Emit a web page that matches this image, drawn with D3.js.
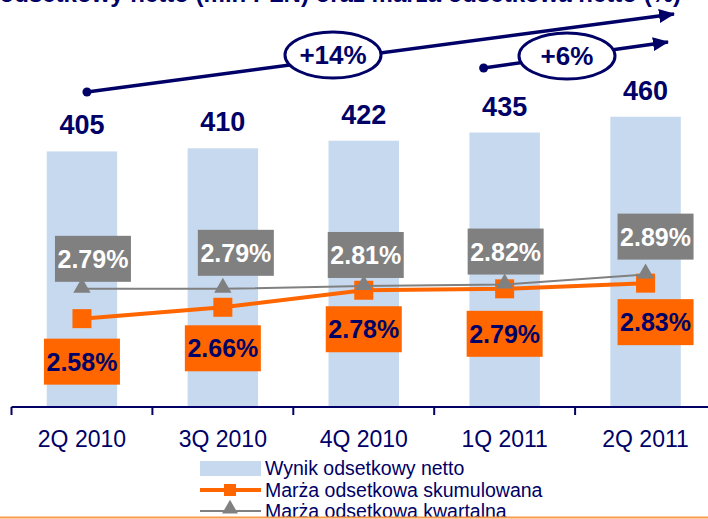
<!DOCTYPE html>
<html>
<head>
<meta charset="utf-8">
<script src="https://cdn.jsdelivr.net/npm/d3@7"></script>
<style>
  html, body { margin: 0; padding: 0; background: #fff; }
  svg { display: block; font-family: "Liberation Sans", Arial, sans-serif; }
</style>
</head>
<body>
<svg id="chart" width="708" height="519"></svg>
<script>
// Quarterly net interest income (mln PLN) and net interest margin (%)
const categories = ["2Q 2010", "3Q 2010", "4Q 2010", "1Q 2011", "2Q 2011"];
const netInterest = [405, 410, 422, 435, 460];
const marginCumulative = [2.58, 2.66, 2.78, 2.79, 2.83];
const marginQuarterly = [2.79, 2.79, 2.81, 2.82, 2.89];
const growthLabels = ["+14%", "+6%"];
const legendLabels = ["Wynik odsetkowy netto", "Marża odsetkowa skumulowana", "Marża odsetkowa kwartalna"];
const titleText = "Wynik odsetkowy netto (mln PLN) oraz marża odsetkowa netto (%)";

// hand-placed label offsets (px) so boxes sit clear of the lines
const quarterlyLabelDx = [11, 13, 2, 1, 10];
const quarterlyLabelGap = [7, 13, 8, 10, 15];
const cumulativeLabelDx = [0, 0, 0, 0, 10];
const cumulativeLabelGap = [20, 18, 16, 22, 16];

const NAVY = "#000066";
const BAR = "#C6D9EF";
const ORANGE = "#FF6600";
const GREY = "#808080";

const svg = d3.select("#chart");

const axisY = 407;
const x = d3.scaleBand().domain(categories).range([11.5, 716]).paddingInner(0.5).paddingOuter(0.25);
const y = d3.scaleLinear().domain([0, 600]).range([axisY, 28.4]);
const y2 = d3.scaleLinear().domain([2, 3]).range([401, 259]);
const cx = c => x(c) + x.bandwidth() / 2;

// title (runs off the top edge)
svg.append("text")
  .attr("x", 681).attr("y", 2)
  .attr("text-anchor", "end")
  .attr("font-size", 24).attr("font-weight", "bold")
  .attr("fill", NAVY)
  .text(titleText);

// bars
svg.append("g").selectAll("rect")
  .data(netInterest)
  .join("rect")
  .attr("x", (d, i) => x(categories[i]))
  .attr("y", d => y(d))
  .attr("width", x.bandwidth())
  .attr("height", d => axisY - y(d))
  .attr("fill", BAR);

// bar value labels
svg.append("g").selectAll("text")
  .data(netInterest)
  .join("text")
  .attr("x", (d, i) => cx(categories[i]))
  .attr("y", d => y(d) - 17)
  .attr("text-anchor", "middle")
  .attr("font-size", 27).attr("font-weight", "bold")
  .attr("fill", NAVY)
  .text(d => d);

// x axis: baseline with ticks at category boundaries
const axis = svg.append("g");
axis.append("line")
  .attr("x1", x.range()[0]).attr("x2", 708)
  .attr("y1", axisY).attr("y2", axisY)
  .attr("stroke", NAVY).attr("stroke-width", 2);
const step = x.step();
const boundaries = d3.range(categories.length + 1).map(i => x.range()[0] + i * step);
axis.selectAll("line.tick")
  .data(boundaries)
  .join("line")
  .attr("class", "tick")
  .attr("x1", d => d).attr("x2", d => d)
  .attr("y1", axisY).attr("y2", axisY + 8)
  .attr("stroke", NAVY).attr("stroke-width", 2);
axis.selectAll("text")
  .data(categories)
  .join("text")
  .attr("x", d => cx(d))
  .attr("y", 447)
  .attr("text-anchor", "middle")
  .attr("font-size", 23)
  .attr("fill", NAVY)
  .text(d => d);

// margin lines
const lineGen = vals => d3.line()
  .x((d, i) => cx(categories[i]))
  .y(d => y2(d))(vals);

const tri = d3.symbol().type(d3.symbolTriangle).size(130);

function drawCumulative(g) {
  g.append("path")
    .attr("d", lineGen(marginCumulative))
    .attr("fill", "none").attr("stroke", ORANGE).attr("stroke-width", 4);
  g.selectAll("rect")
    .data(marginCumulative)
    .join("rect")
    .attr("x", (d, i) => cx(categories[i]) - 9.5)
    .attr("y", d => y2(d) - 9.5)
    .attr("width", 19).attr("height", 19)
    .attr("fill", ORANGE);
}
function drawQuarterly(g) {
  g.append("path")
    .attr("d", lineGen(marginQuarterly))
    .attr("fill", "none").attr("stroke", GREY).attr("stroke-width", 2);
  g.selectAll("path.mk")
    .data(marginQuarterly)
    .join("path")
    .attr("class", "mk")
    .attr("d", tri)
    .attr("transform", (d, i) => `translate(${cx(categories[i])},${y2(d) - 1})`)
    .attr("fill", GREY);
}
drawCumulative(svg.append("g"));
drawQuarterly(svg.append("g"));

// value boxes
const boxW = 76, boxH = 46;
const fmt = d => d.toFixed(2) + "%";

const qLab = svg.append("g").selectAll("g")
  .data(marginQuarterly)
  .join("g")
  .attr("transform", (d, i) =>
    `translate(${cx(categories[i]) + quarterlyLabelDx[i] - boxW / 2},${y2(d) - quarterlyLabelGap[i] - boxH})`);
qLab.append("rect").attr("width", boxW).attr("height", boxH).attr("fill", GREY);
qLab.append("text")
  .attr("x", boxW / 2).attr("y", 32)
  .attr("text-anchor", "middle")
  .attr("font-size", 25).attr("font-weight", "bold")
  .attr("fill", "#fff")
  .text(fmt);

const cLab = svg.append("g").selectAll("g")
  .data(marginCumulative)
  .join("g")
  .attr("transform", (d, i) =>
    `translate(${cx(categories[i]) + cumulativeLabelDx[i] - boxW / 2},${y2(d) + cumulativeLabelGap[i]})`);
cLab.append("rect").attr("width", boxW).attr("height", boxH).attr("fill", ORANGE);
cLab.append("text")
  .attr("x", boxW / 2).attr("y", 32)
  .attr("text-anchor", "middle")
  .attr("font-size", 25).attr("font-weight", "bold")
  .attr("fill", NAVY)
  .text(fmt);

// growth arrows with ellipse callouts
const defs = svg.append("defs");
defs.append("marker")
  .attr("id", "head")
  .attr("markerUnits", "userSpaceOnUse")
  .attr("viewBox", "0 0 16 14")
  .attr("refX", 15).attr("refY", 7)
  .attr("markerWidth", 16).attr("markerHeight", 14)
  .attr("orient", "auto")
  .append("path").attr("d", "M0,0 L16,7 L0,14 Z").attr("fill", NAVY);

const arrows = [
  { x1: cx(categories[0]) + 5, y1: 92, x2: 674, y2: 14, ex: 333, ey: 55, label: growthLabels[0] },
  { x1: cx(categories[3]) - 21, y1: 68, x2: 668, y2: 42, ex: 567, ey: 56, label: growthLabels[1] }
];
const ag = svg.append("g");
arrows.forEach(a => {
  ag.append("line")
    .attr("x1", a.x1).attr("y1", a.y1).attr("x2", a.x2).attr("y2", a.y2)
    .attr("stroke", NAVY).attr("stroke-width", 3.5)
    .attr("marker-end", "url(#head)");
  ag.append("circle").attr("cx", a.x1).attr("cy", a.y1).attr("r", 4.5).attr("fill", NAVY);
});
arrows.forEach(a => {
  ag.append("ellipse")
    .attr("cx", a.ex).attr("cy", a.ey).attr("rx", 48).attr("ry", 23)
    .attr("fill", "#fff").attr("stroke", NAVY).attr("stroke-width", 3);
  ag.append("text")
    .attr("x", a.ex).attr("y", a.ey + 9)
    .attr("text-anchor", "middle")
    .attr("font-size", 26).attr("font-weight", "bold")
    .attr("fill", NAVY)
    .text(a.label);
});

// legend
const lg = svg.append("g");
lg.append("rect").attr("x", 200).attr("y", 461).attr("width", 61).attr("height", 15).attr("fill", BAR);
lg.append("line").attr("x1", 200).attr("x2", 261).attr("y1", 490).attr("y2", 490)
  .attr("stroke", ORANGE).attr("stroke-width", 4);
lg.append("rect").attr("x", 224).attr("y", 484).attr("width", 12).attr("height", 12).attr("fill", ORANGE);
lg.append("line").attr("x1", 200).attr("x2", 261).attr("y1", 511).attr("y2", 511)
  .attr("stroke", GREY).attr("stroke-width", 2);
lg.append("path").attr("d", d3.symbol().type(d3.symbolTriangle).size(110))
  .attr("transform", "translate(230,509)").attr("fill", GREY);
lg.selectAll("text")
  .data(legendLabels)
  .join("text")
  .attr("x", 265)
  .attr("y", (d, i) => 475 + i * 21.5)
  .attr("font-size", 19.5)
  .attr("fill", NAVY)
  .text(d => d);

// footer rule
svg.append("line").attr("x1", 0).attr("x2", 708).attr("y1", 517.5).attr("y2", 517.5)
  .attr("stroke", "#F79A4A").attr("stroke-width", 2);
</script>
</body>
</html>
